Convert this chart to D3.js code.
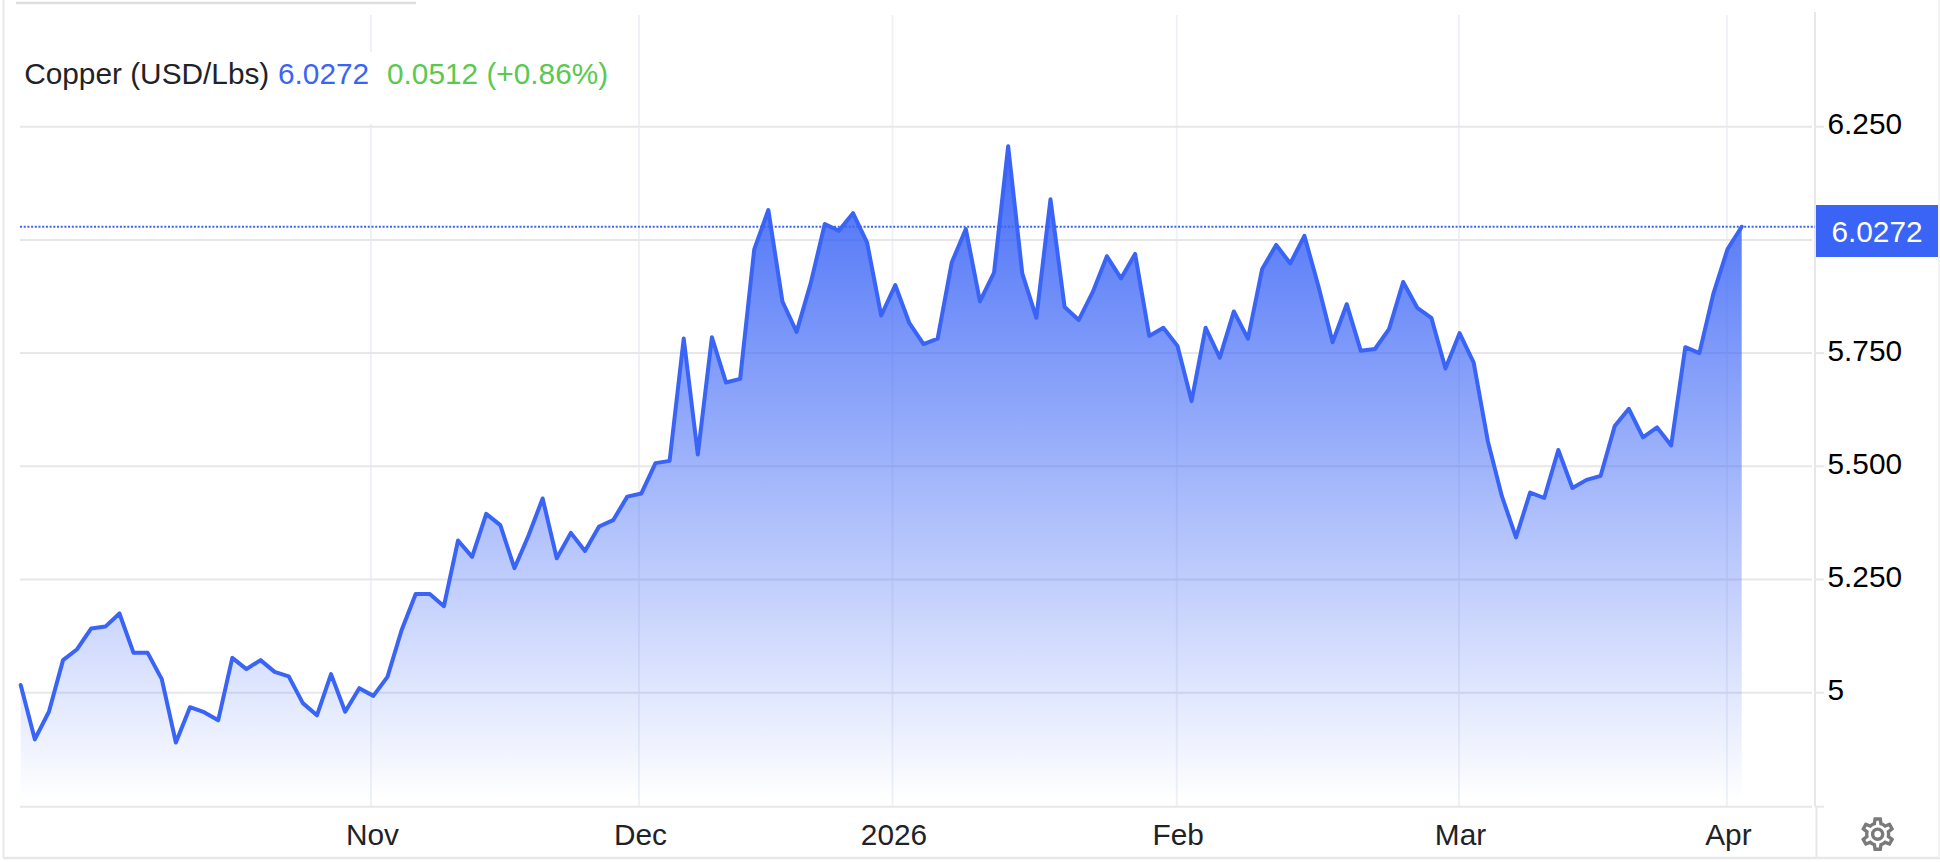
<!DOCTYPE html>
<html lang="en">
<head>
<meta charset="utf-8">
<title>Copper (USD/Lbs)</title>
<style>
html, body { margin:0; padding:0; background:#fff; }
svg { display:block; }
text { font-family:"Liberation Sans","Helvetica",sans-serif; }
.domain { display:none; }
</style>
<script src="https://cdn.jsdelivr.net/npm/d3@7"></script>
</head>
<body>
<div id="chart"></div>
<script>
// daily closes
var prices = [
  5.017,4.897,4.958,5.072,5.096,5.142,5.146,5.175,5.088,5.088,
  5.030,4.890,4.968,4.957,4.939,5.077,5.052,5.072,5.046,5.036,
  4.977,4.950,5.041,4.958,5.010,4.993,5.035,5.138,5.218,5.218,
  5.191,5.336,5.300,5.395,5.370,5.275,5.347,5.429,5.297,5.353,
  5.313,5.367,5.381,5.433,5.440,5.507,5.512,5.782,5.526,5.785,
  5.685,5.693,5.979,6.066,5.864,5.797,5.904,6.035,6.020,6.059,
  5.994,5.833,5.900,5.816,5.770,5.782,5.950,6.024,5.864,5.928,
  6.207,5.926,5.828,6.090,5.852,5.823,5.885,5.964,5.915,5.969,
  5.788,5.806,5.766,5.644,5.806,5.740,5.842,5.782,5.935,5.989,
  5.948,6.009,5.897,5.774,5.858,5.755,5.759,5.803,5.907,5.850,
  5.828,5.716,5.794,5.729,5.556,5.434,5.343,5.442,5.430,5.536,
  5.452,5.470,5.479,5.589,5.627,5.564,5.586,5.546,5.763,5.750,
  5.882,5.980,6.029
];
var monthLabels = ["Nov","Dec","2026","Feb","Mar","Apr"];
var monthPositions = [24.83,43.83,61.8,81.95,101.96,120.95];   // in trading-day index
var priceTicks = [5,5.25,5.5,5.75,6,6.25];
var priceLabels = ["5","5.250","5.500","5.750","","6.250"];   // 6 sits under the price tag
var lastPrice = 6.0272;
var lastChange = "0.0512 (+0.86%)";
var title = "Copper (USD/Lbs)";

var width = 1940, height = 862;
var blue = "#3a64f6", gridColor = "#e7e7ea", vGridColor = "#eef2f7", fontSize = 29.8;

var svg = d3.select("#chart").append("svg")
    .attr("width", width)
    .attr("height", height);

var x = d3.scaleLinear().domain([0, prices.length - 1]).range([20.7, 1741.7]);
var y = d3.scaleLinear().domain([4.75, 6.5]).range([805.9, 13.5]);
var plotLeft = 20, plotRight = 1812, plotBottom = 806.7, plotTop = 15, axisX = 1815;
var lastY = y(prices[prices.length - 1]);

var grad = svg.append("defs").append("linearGradient")
    .attr("id", "areaFill")
    .attr("gradientUnits", "userSpaceOnUse")
    .attr("x1", 0).attr("x2", 0)
    .attr("y1", y(d3.max(prices))).attr("y2", 800);
grad.append("stop").attr("offset", 0).attr("stop-color", blue).attr("stop-opacity", 0.95);
grad.append("stop").attr("offset", 1).attr("stop-color", blue).attr("stop-opacity", 0);

// frame
svg.append("line").attr("x1", 16).attr("x2", 416).attr("y1", 3).attr("y2", 3)
    .style("stroke", "#dedede").style("stroke-width", 2.5);
svg.append("line").attr("x1", 3.5).attr("x2", 3.5).attr("y1", 0).attr("y2", 858)
    .style("stroke", gridColor).style("stroke-width", 2);
svg.append("line").attr("x1", 3).attr("x2", width).attr("y1", 858).attr("y2", 858)
    .style("stroke", gridColor).style("stroke-width", 2.5);
svg.append("line").attr("x1", 1939).attr("x2", 1939).attr("y1", 0).attr("y2", 858)
    .style("stroke", "#f0f0f2").style("stroke-width", 1.5);

// grid
svg.selectAll("line.vgrid")
    .data(monthPositions)
    .enter()
    .append("line")
        .attr("class", "vgrid")
        .attr("x1", function(d) { return x(d); })
        .attr("x2", function(d) { return x(d); })
        .attr("y1", plotTop)
        .attr("y2", plotBottom)
        .style("stroke", vGridColor)
        .style("stroke-width", 2);

svg.selectAll("line.hgrid")
    .data(priceTicks)
    .enter()
    .append("line")
        .attr("class", "hgrid")
        .attr("x1", plotLeft)
        .attr("x2", plotRight)
        .attr("y1", function(d) { return y(d); })
        .attr("y2", function(d) { return y(d); })
        .style("stroke", gridColor)
        .style("stroke-width", 2);

svg.append("line").attr("x1", plotLeft).attr("x2", plotRight)
    .attr("y1", plotBottom).attr("y2", plotBottom)
    .style("stroke", gridColor).style("stroke-width", 2);
svg.append("line").attr("x1", plotRight + 3).attr("x2", 1824)
    .attr("y1", plotBottom).attr("y2", plotBottom)
    .style("stroke", gridColor).style("stroke-width", 2);
svg.append("line").attr("x1", axisX).attr("x2", axisX).attr("y1", 12).attr("y2", plotBottom)
    .style("stroke", gridColor).style("stroke-width", 2);
svg.append("line").attr("x1", 1816.5).attr("x2", 1816.5).attr("y1", plotBottom).attr("y2", 858)
    .style("stroke", gridColor).style("stroke-width", 2);

// area + line
var area = d3.area()
    .x(function(d, i) { return x(i); })
    .y0(plotBottom)
    .y1(function(d) { return y(d); });
var line = d3.line()
    .x(function(d, i) { return x(i); })
    .y(function(d) { return y(d); });

svg.append("path").datum(prices).attr("d", area).style("fill", "url(#areaFill)");
svg.append("path").datum(prices).attr("d", line)
    .style("fill", "none")
    .style("stroke", blue)
    .style("stroke-width", 4)
    .style("stroke-linejoin", "round")
    .style("stroke-linecap", "round");

// last price dotted line
svg.append("line")
    .attr("x1", plotLeft).attr("x2", axisX)
    .attr("y1", lastY).attr("y2", lastY)
    .style("stroke", blue)
    .style("stroke-width", 2)
    .style("stroke-dasharray", "2 1.7");

// axes
var yAxis = d3.axisRight(y)
    .tickValues(priceTicks)
    .tickFormat(function(d, i) { return priceLabels[i]; })
    .tickSize(0)
    .tickPadding(0);
var yG = svg.append("g").attr("transform", "translate(1827.5,0)").call(yAxis);
yG.selectAll("text")
    .attr("dy", null)
    .attr("dominant-baseline", "central")
    .attr("transform", "translate(0,-3.5)")
    .style("font-size", fontSize + "px")
    .style("font-family", '"Liberation Sans",sans-serif')
    .style("fill", "#000");
svg.selectAll("line.ytick")
    .data(priceTicks)
    .enter()
    .append("line")
        .attr("class", "ytick")
        .attr("x1", plotRight + 3)
        .attr("x2", 1824)
        .attr("y1", function(d) { return y(d); })
        .attr("y2", function(d) { return y(d); })
        .style("stroke", gridColor)
        .style("stroke-width", 2);

var xAxis = d3.axisBottom(x)
    .tickValues(monthPositions)
    .tickFormat(function(d, i) { return monthLabels[i]; })
    .tickSize(0)
    .tickPadding(0);
var xG = svg.append("g").attr("transform", "translate(1,845)").call(xAxis);
xG.selectAll("text")
    .attr("y", 0)
    .attr("dy", null)
    .style("font-size", fontSize + "px")
    .style("font-family", '"Liberation Sans",sans-serif')
    .style("fill", "#1f2328");

// last price tag
svg.append("rect")
    .attr("x", 1816).attr("y", 205)
    .attr("width", 122).attr("height", 52)
    .style("fill", blue);
svg.append("text")
    .attr("x", 1877).attr("y", 242)
    .attr("text-anchor", "middle")
    .style("font-size", fontSize + "px")
    .style("fill", "#fff")
    .text(d3.format(".4f")(lastPrice));

// legend
svg.append("rect").attr("x", 20).attr("y", 52).attr("width", 595).attr("height", 72).style("fill", "#fff");
svg.append("text").attr("x", 24.2).attr("y", 84)
    .style("font-size", fontSize + "px").style("fill", "#1f2328").text(title);
svg.append("text").attr("x", 278).attr("y", 84)
    .style("font-size", fontSize + "px").style("fill", blue).text(d3.format(".4f")(lastPrice));
svg.append("text").attr("x", 387).attr("y", 84)
    .style("font-size", fontSize + "px").style("fill", "#5ac94f").text(lastChange);

// settings icon
svg.append("path")
    .attr("transform", "translate(1857.5,814) scale(1.68)")
    .style("fill", "#7a7a7a")
    .attr("d", "M19.43 12.98c.04-.32.07-.64.07-.98 0-.34-.03-.66-.07-.98l2.11-1.65c.19-.15.24-.42.12-.64l-2-3.46c-.09-.16-.26-.25-.44-.25-.06 0-.12.01-.17.03l-2.49 1c-.52-.4-1.08-.73-1.69-.98l-.38-2.65C14.46 2.18 14.25 2 14 2h-4c-.25 0-.46.18-.49.42l-.38 2.65c-.61.25-1.17.59-1.69.98l-2.49-1c-.06-.02-.12-.03-.18-.03-.17 0-.34.09-.43.25l-2 3.46c-.13.22-.07.49.12.64l2.11 1.65c-.04.32-.07.65-.07.98 0 .33.03.66.07.98l-2.11 1.65c-.19.15-.24.42-.12.64l2 3.46c.09.16.26.25.44.25.06 0 .12-.01.17-.03l2.49-1c.52.4 1.08.73 1.69.98l.38 2.65c.03.24.24.42.49.42h4c.25 0 .46-.18.49-.42l.38-2.65c.61-.25 1.17-.59 1.69-.98l2.49 1c.06.02.12.03.18.03.17 0 .34-.09.43-.25l2-3.46c.12-.22.07-.49-.12-.64l-2.11-1.65zm-1.98-1.71c.04.31.05.52.05.73 0 .21-.02.43-.05.73l-.14 1.13.89.7 1.08.84-.7 1.21-1.27-.51-1.04-.42-.9.68c-.43.32-.84.56-1.25.73l-1.06.43-.16 1.13-.2 1.35h-1.4l-.19-1.35-.16-1.13-1.06-.43c-.43-.18-.83-.41-1.23-.71l-.91-.7-1.06.43-1.27.51-.7-1.21 1.08-.84.89-.7-.14-1.13c-.03-.31-.05-.54-.05-.74s.02-.43.05-.73l.14-1.13-.89-.7-1.08-.84.7-1.21 1.27.51 1.04.42.9-.68c.43-.32.84-.56 1.25-.73l1.06-.43.16-1.13.2-1.35h1.39l.19 1.35.16 1.13 1.06.43c.43.18.83.41 1.23.71l.91.7 1.06-.43 1.27-.51.7 1.21-1.07.85-.89.7.14 1.13zM12 8c-2.21 0-4 1.79-4 4s1.79 4 4 4 4-1.79 4-4-1.79-4-4-4zm0 6c-1.1 0-2-.9-2-2s.9-2 2-2 2 .9 2 2-.9 2-2 2z");
</script>
</body>
</html>
